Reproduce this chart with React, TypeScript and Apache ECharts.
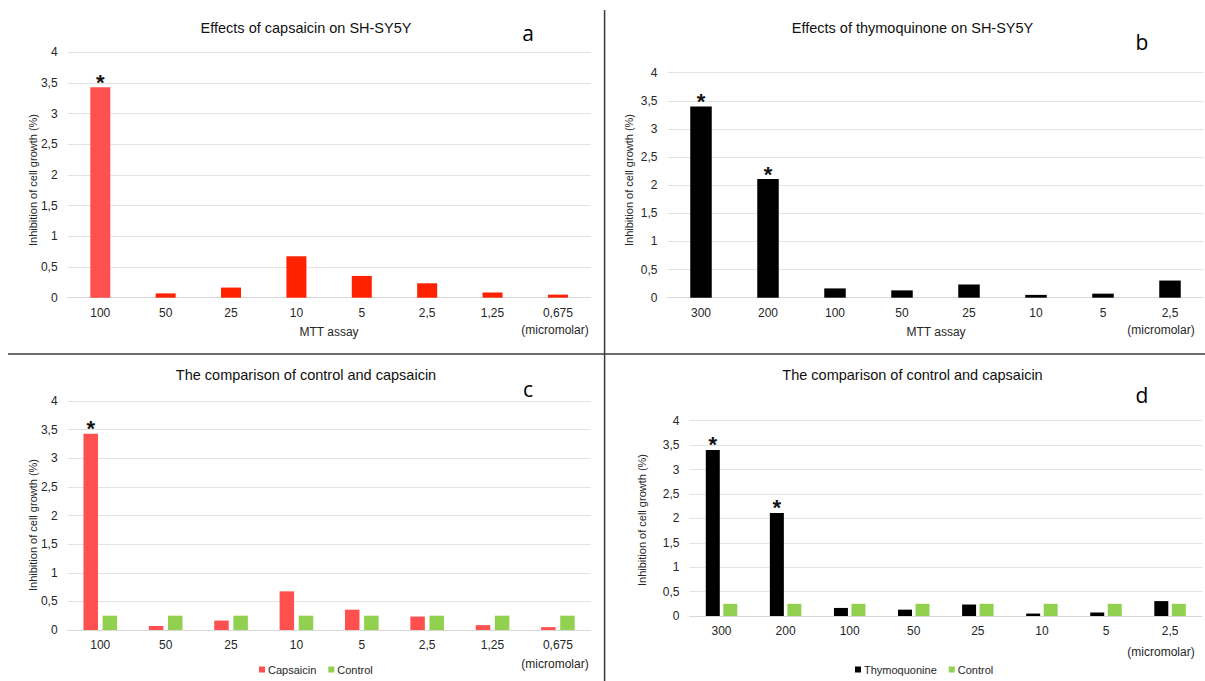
import React, { useEffect, useRef } from "react";
import * as echarts from "echarts";

// ---- data ----
const capsaicinDoses = ["100", "50", "25", "10", "5", "2,5", "1,25", "0,675"];
const capsaicinValues = [3.43, 0.07, 0.165, 0.675, 0.355, 0.235, 0.085, 0.05];
const capsaicinControl = [0.25, 0.25, 0.25, 0.25, 0.25, 0.25, 0.25, 0.25];
const capsaicinStarred = [0];

const thymoDoses = ["300", "200", "100", "50", "25", "10", "5", "2,5"];
const thymoValues = [3.4, 2.11, 0.165, 0.13, 0.235, 0.05, 0.072, 0.305];
const thymoControl = [0.25, 0.25, 0.25, 0.25, 0.25, 0.25, 0.25, 0.25];
const thymoStarred = [0, 1];

const yMin = 0;
const yMax = 4;
const yStep = 0.5;

const titles = [
  "Effects of capsaicin on SH-SY5Y",
  "Effects of thymoquinone on SH-SY5Y",
  "The comparison of control and capsaicin",
  "The comparison of control and capsaicin",
];
const panelLetters = ["a", "b", "c", "d"];
const yAxisTitle = "Inhibition of cell growth (%)";
const xAxisTitle = "MTT assay";
const unitLabel = "(micromolar)";

// ---- styles ----
const NARROW = "'Liberation Sans Narrow', 'Arial Narrow', 'Liberation Sans', Arial, sans-serif";
const LIGHT_RED = "#FF4F4F";
const DEEP_RED = "#FF2200";
const GREEN = "#92D050";
const BLACK = "#000000";
const TEXT = "#262626";

export default function App() {
  const ref = useRef<HTMLDivElement>(null);

  useEffect(() => {
    if (!ref.current) return;
    const chart = echarts.init(ref.current, undefined, { renderer: "svg" });

    const grids = [
      { left: 67.6, top: 52.3, width: 523, height: 245.4 },
      { left: 667.5, top: 72.7, width: 536, height: 225 },
      { left: 67.6, top: 401, width: 523, height: 229 },
      { left: 689.5, top: 420.7, width: 512.6, height: 195.3 },
    ];

    const cats = [capsaicinDoses, thymoDoses, capsaicinDoses, thymoDoses];

    const xAxes = grids.map((g, i) => ({
      type: "category",
      gridIndex: i,
      data: cats[i],
      axisTick: { show: false },
      axisLine: { lineStyle: { color: "#d9d9d9", width: 1 } },
      axisLabel: { color: TEXT, fontSize: 12, fontFamily: NARROW, margin: 9, interval: 0 },
    }));

    const yAxes = grids.map((g, i) => ({
      type: "value",
      gridIndex: i,
      min: yMin,
      max: yMax,
      interval: yStep,
      axisLine: { show: false },
      axisTick: { show: false },
      splitLine: { lineStyle: { color: "#e3e3e3", width: 1 } },
      axisLabel: {
        color: TEXT,
        fontSize: 12,
        fontFamily: NARROW,
        margin: 10,
        formatter: (v: number) => String(v).replace(".", ","),
      },
    }));

    const star = {
      show: true,
      position: "top",
      formatter: "*",
      fontSize: 22,
      fontWeight: "bold",
      color: "#111",
      fontFamily: "'Liberation Sans', Arial, sans-serif",
      distance: -6,
    };

    const mk = (vals: number[], starred: number[], colorFn: (i: number) => string) =>
      vals.map((v, i) => ({
        value: v,
        itemStyle: { color: colorFn(i) },
        label: starred.includes(i) ? star : { show: false },
      }));

    const series: any[] = [
      {
        type: "bar",
        name: "Capsaicin (a)",
        xAxisIndex: 0,
        yAxisIndex: 0,
        barWidth: 20,
        data: mk(capsaicinValues, capsaicinStarred, (i) => (i === 0 ? LIGHT_RED : DEEP_RED)),
      },
      {
        type: "bar",
        name: "Thymoquinone (b)",
        xAxisIndex: 1,
        yAxisIndex: 1,
        barWidth: 21.5,
        itemStyle: { color: BLACK },
        data: mk(thymoValues, thymoStarred, () => BLACK),
      },
      {
        type: "bar",
        name: "Capsaicin",
        xAxisIndex: 2,
        yAxisIndex: 2,
        barWidth: 14.5,
        barGap: "32%",
        itemStyle: { color: LIGHT_RED },
        data: mk(capsaicinValues, capsaicinStarred, () => LIGHT_RED),
      },
      {
        type: "bar",
        name: "Control",
        xAxisIndex: 2,
        yAxisIndex: 2,
        barWidth: 14.5,
        barGap: "32%",
        itemStyle: { color: GREEN },
        data: capsaicinControl,
      },
      {
        type: "bar",
        name: "Thymoquonine",
        xAxisIndex: 3,
        yAxisIndex: 3,
        barWidth: 14,
        barGap: "25%",
        itemStyle: { color: BLACK },
        data: mk(thymoValues, thymoStarred, () => BLACK),
      },
      {
        type: "bar",
        name: "Control",
        xAxisIndex: 3,
        yAxisIndex: 3,
        barWidth: 14,
        barGap: "25%",
        itemStyle: { color: GREEN },
        data: thymoControl,
      },
    ];

    const legendCommon = {
      orient: "horizontal",
      icon: "rect",
      itemWidth: 6,
      itemHeight: 6,
      itemGap: 12,
      padding: 0,
      selectedMode: false,
      textStyle: { color: TEXT, fontSize: 11, fontFamily: NARROW, padding: [0, 0, 0, -2] },
    };

    const titlePos = [
      { x: 306, y: 28 },
      { x: 912.5, y: 28 },
      { x: 306, y: 375 },
      { x: 912.5, y: 375 },
    ];
    const letterPos = [
      { x: 528, y: 33 },
      { x: 1142, y: 42 },
      { x: 528, y: 389 },
      { x: 1142, y: 395 },
    ];
    const yNamePos = [
      { x: 32.5, y: 180 },
      { x: 629, y: 180 },
      { x: 32.5, y: 525 },
      { x: 641.7, y: 520 },
    ];

    const graphic: any[] = [
      { type: "line", shape: { x1: 604.6, y1: 10, x2: 604.6, y2: 681 }, style: { stroke: "#3a3a3a", lineWidth: 1.5 } },
      { type: "line", shape: { x1: 8, y1: 354, x2: 1205, y2: 354 }, style: { stroke: "#3a3a3a", lineWidth: 1.5 } },
    ];
    titles.forEach((t, i) => {
      graphic.push({
        type: "text",
        x: titlePos[i].x,
        y: titlePos[i].y,
        style: { text: t, fill: "#111", font: `14.5px ${NARROW}`, textAlign: "center", textVerticalAlign: "middle" },
      });
      graphic.push({
        type: "text",
        x: letterPos[i].x,
        y: letterPos[i].y,
        style: { text: panelLetters[i], fill: "#000", font: `21px 'Open Sans', 'Liberation Sans', sans-serif`, textAlign: "center", textVerticalAlign: "middle" },
      });
      graphic.push({
        type: "text",
        x: yNamePos[i].x,
        y: yNamePos[i].y,
        rotation: Math.PI / 2,
        style: { text: yAxisTitle, fill: TEXT, font: `11px ${NARROW}`, textAlign: "center", textVerticalAlign: "middle" },
      });
    });
    const extraTexts = [
      { t: xAxisTitle, x: 329, y: 332 },
      { t: unitLabel, x: 555, y: 330 },
      { t: xAxisTitle, x: 936, y: 332 },
      { t: unitLabel, x: 1161, y: 330 },
      { t: unitLabel, x: 555, y: 664 },
      { t: unitLabel, x: 1161, y: 651.7 },
    ];
    extraTexts.forEach((e) =>
      graphic.push({
        type: "text",
        x: e.x,
        y: e.y,
        style: { text: e.t, fill: TEXT, font: `12px ${NARROW}`, textAlign: "center", textVerticalAlign: "middle" },
      })
    );

    chart.setOption({
      animation: false,
      backgroundColor: "#ffffff",
      textStyle: { fontFamily: NARROW },
      grid: grids.map((g) => ({ ...g, containLabel: false })),
      xAxis: xAxes,
      yAxis: yAxes,
      legend: [
        { ...legendCommon, data: ["Capsaicin", "Control"], left: 259, top: 664 },
        { ...legendCommon, data: ["Thymoquonine", "Control"], left: 855, top: 664 },
      ],
      series,
      graphic,
    });

    return () => chart.dispose();
  }, []);

  return (
    <div
      ref={ref}
      style={{ position: "absolute", left: 0, top: 0, width: 1205, height: 681, background: "#fff" }}
    />
  );
}
